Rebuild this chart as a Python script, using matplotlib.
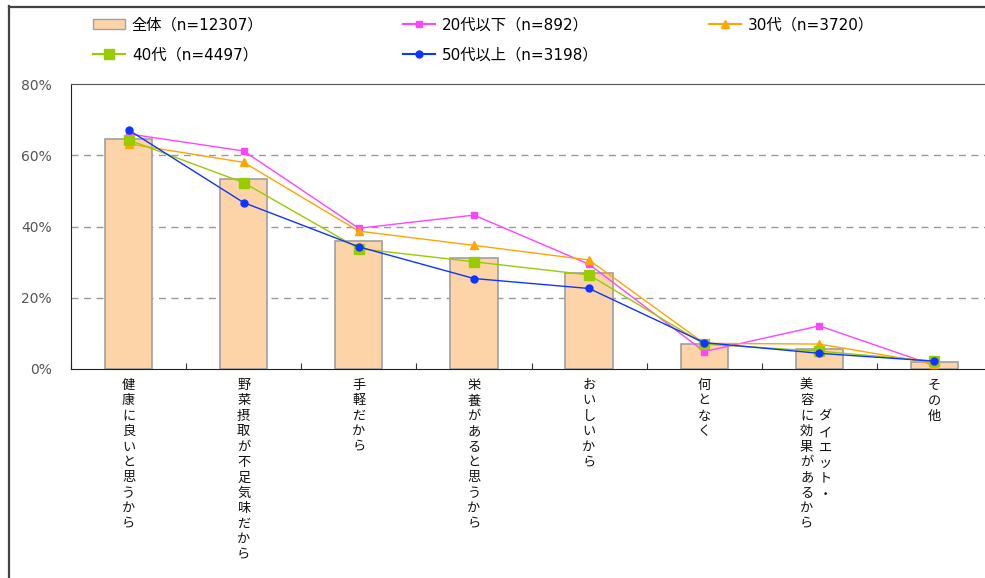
import numpy as np
import matplotlib.pyplot as plt
from matplotlib.lines import Line2D
from matplotlib.patches import Patch
import matplotlib.transforms as mtransforms

plt.rcParams['font.family'] = ['Noto Sans CJK JP', 'DejaVu Sans']

# データ（%）
categories = ['健康に良いと思うから', '野菜摂取が不足気味だから', '手軽だから',
              '栄養があると思うから', 'おいしいから', '何となく',
              '美容に効果があるから', 'その他']
extra_label = 'ダイエット・'   # 7番目の項目の2列目
total = [64.7, 53.3, 36.0, 31.2, 27.0, 6.9, 5.7, 1.9]
age_20 = [66.0, 61.2, 39.5, 43.2, 29.4, 4.9, 12.1, 1.0]
age_30 = [63.2, 58.0, 38.7, 34.7, 30.6, 7.2, 7.0, 1.5]
age_40 = [64.3, 52.3, 33.8, 30.1, 26.4, 7.0, 5.0, 2.2]
age_50 = [67.1, 46.7, 34.3, 25.4, 22.6, 7.4, 4.4, 2.2]
yticks = [0, 20, 40, 60, 80]

legend_names = ['全体（n=12307）', '20代以下（n=892）', '30代（n=3720）',
                '40代（n=4497）', '50代以上（n=3198）']

W, H = 985, 578
fig = plt.figure(figsize=(W / 100, H / 100), dpi=100)
ax = fig.add_axes([71 / W, 1 - 369 / H, 921 / W, 285 / H])

x = np.arange(len(categories))
ax.bar(x, total, width=0.41, color='#FDD3A8', edgecolor='#A0A0A0', linewidth=1.2, zorder=2)

ax.plot(x, age_20, color='#FF44FF', lw=1, marker='s', ms=5, zorder=3)
ax.plot(x, age_30, color='#FFA500', lw=1, marker='^', ms=6, zorder=4)
ax.plot(x, age_40, color='#99CC00', lw=1, marker='s', ms=7.5, zorder=5)
ax.plot(x, age_50, color='#1034FF', lw=1, marker='o', ms=5, zorder=6)

ax.set_xlim(-0.5, len(categories) - 0.5)
ax.set_ylim(0, 80)
ax.set_yticks(yticks)
ax.set_yticklabels([f'{v}%' for v in yticks], color='#555555', fontsize=10, family='DejaVu Sans')
ax.tick_params(axis='y', length=0, pad=14)
ax.set_xticks(np.arange(len(categories) + 1) - 0.5)
ax.set_xticklabels([])
ax.tick_params(axis='x', direction='in', length=4, color='#333333')
for v in yticks[1:-1]:
    ax.axhline(v, color='#999999', lw=1, ls=(0, (5, 4)), zorder=1)

for s in ['left', 'bottom']:
    ax.spines[s].set_color('#222222')
ax.spines['top'].set_color('#555555')
ax.spines['right'].set_visible(False)

# 縦書きラベル
trans = mtransforms.blended_transform_factory(ax.transData, fig.transFigure)
for i, lab in enumerate(categories):
    xi = i - 0.11 if i == 6 else i
    ax.text(xi, 1 - 379 / H, '\n'.join(lab), transform=trans, ha='center', va='top',
            fontsize=9.5, linespacing=1.24, color='#111111')
ax.text(6 + 0.05, 1 - 411 / H, '\n'.join(extra_label), transform=trans, ha='center', va='top',
        fontsize=9.5, linespacing=1.24, color='#111111')

# 凡例
handles = [Patch(facecolor='#FDD3A8', edgecolor='#A0A0A0'),
           Line2D([], [], color='#FF44FF', marker='s', ms=5),
           Line2D([], [], color='#FFA500', marker='^', ms=6),
           Line2D([], [], color='#99CC00', marker='s', ms=7.5),
           Line2D([], [], color='#1034FF', marker='o', ms=5)]
pos = [(93, 25), (403, 25), (709, 25), (93, 55), (403, 55)]
for h, name, (px, py) in zip(handles, legend_names, pos):
    fig.legend([h], [name], loc='center left', bbox_to_anchor=(px / W, 1 - py / H),
               frameon=False, handlelength=2.1, handletextpad=0.45,
               borderpad=0, borderaxespad=0, handleheight=0.6,
               prop={'family': ['DejaVu Sans', 'Noto Sans CJK JP'], 'size': 11})

# 外枠
fig.add_artist(Line2D([8.5 / W, 8.5 / W], [0, 1 - 6 / H], color='#444444', lw=1.6))
fig.add_artist(Line2D([8.5 / W, 1], [1 - 6.5 / H, 1 - 6.5 / H], color='#444444', lw=1.6))

fig.savefig('out.png', dpi=100)
